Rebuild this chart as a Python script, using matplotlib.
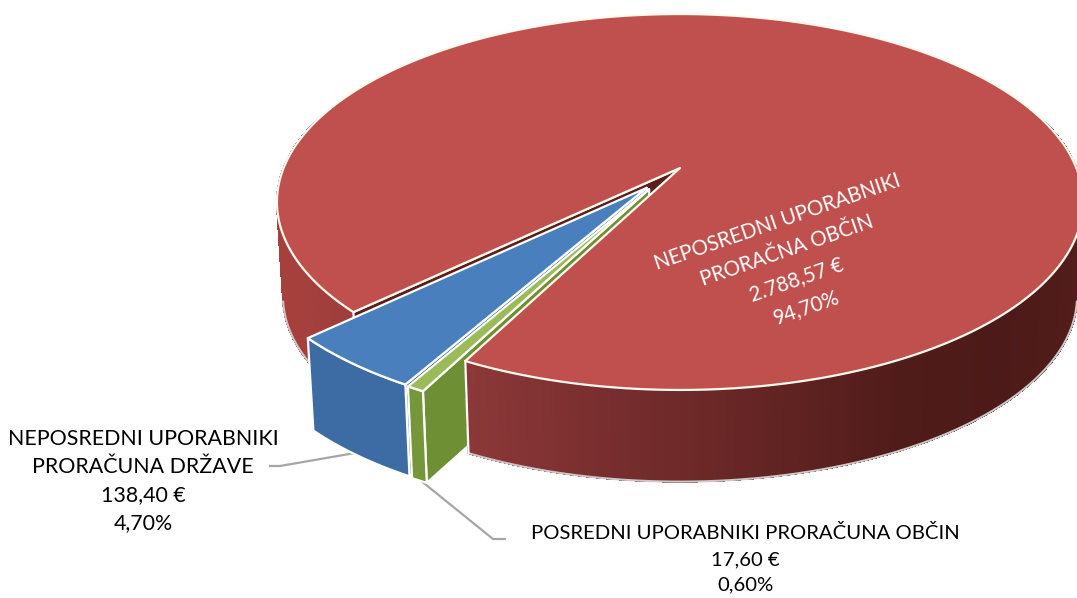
import numpy as np
import matplotlib
matplotlib.use('Agg')
import matplotlib.pyplot as plt
from matplotlib.collections import PolyCollection
from matplotlib.colors import to_rgb

plt.rcParams['font.family'] = ['Lato', 'DejaVu Sans']

# dati del grafico
names = ['NEPOSREDNI UPORABNIKI\nPRORAČNA OBČIN',
         'POSREDNI UPORABNIKI PRORAČUNA OBČIN',
         'NEPOSREDNI UPORABNIKI\nPRORAČUNA DRŽAVE']
values = [2788.57, 17.60, 138.40]
value_labels = ['2.788,57 €', '17,60 €', '138,40 €']
pct_labels = ['94,70%', '0,60%', '4,70%']
top_colors = ['#c0504d', '#9bbb59', '#4a7fbd']
wall_colors = ['#8a3a38', '#76963a', '#3d6ca5']
side_colors = ['#5a1f1c', '#6f8f35', '#2f5a94']
explode = [0.0, 0.137, 0.135]
explode_turn = [0.0, 5.7, 0.0]

# gradiente del bordo rosso, per x in pixel
wall_x = [277, 300, 465, 600, 760, 900, 1000, 1080]
wall_c = ['#a5403d', '#a5403d', '#8c3839', '#792e2e', '#642524', '#501c1a', '#4c1a18', '#521d1b']

START = 46.1  # primo spicchio, gradi dal basso in senso orario
CX, CY = 680, 168
A, B, K = 396.4, 181.8, 0.1809
SCALE, DEPTH = 0.985, 95
EDGE = '#fff9ee'
OUTER = '#cdc8c8'


def project(ang, r=1.0, off=(0.0, 0.0), lower=False):
    # disco in prospettiva -> pixel
    ang = np.radians(ang)
    X = -np.sin(ang) * r + off[0]
    Y = np.cos(ang) * r + off[1]
    w = 1 - K * Y
    u = A * X / w
    v = B * Y / w
    if lower:
        return np.column_stack([CX + u * SCALE, CY + v * SCALE + DEPTH])
    return np.column_stack([CX + u, CY + v])


fig = plt.figure(figsize=(10.77, 5.98), dpi=100)
ax = fig.add_axes([0, 0, 1, 1])
ax.set_xlim(0, 1077)
ax.set_ylim(598, 0)
ax.axis('off')

total = sum(values)
sweeps = [v / total * 360 for v in values]
starts = [START, START + sweeps[0], START + sweeps[0] + sweeps[1]]


def poly(pts, color, lw=1.6, z=1, edge='white'):
    ax.fill(pts[:, 0], pts[:, 1], facecolor=color, edgecolor=edge, lw=lw,
            joinstyle='round', zorder=z)


def red_wall(a0, a1, z):
    # bordo esterno a strisce, con il gradiente
    angs = np.linspace(a0, a1, 250)
    top = project(angs)
    bot = project(angs, lower=True)
    quads = [[top[i], top[i + 1], bot[i + 1], bot[i]] for i in range(len(angs) - 1)]
    rgb = np.array([to_rgb(c) for c in wall_c])
    mid = (top[:-1, 0] + top[1:, 0]) / 2
    cols = np.column_stack([np.interp(mid, wall_x, rgb[:, i]) for i in range(3)])
    ax.add_collection(PolyCollection(quads, facecolors=cols, edgecolors=cols, lw=0.8,
                                     antialiaseds=False, zorder=z))
    return top, bot


# rosso: parte sinistra dietro al blu, parte destra davanti al verde
a0, a1 = starts[0], starts[0] + sweeps[0]
red_wall(a0, 105, 1)
top_r, bot_r = red_wall(255, a1, 6)
# contorno grigio solo dove si vede
vis_l = project(np.linspace(a0, 78, 60), lower=True)
vis_r = project(np.linspace(282, a1, 150), lower=True)
ax.plot(vis_l[:, 0], vis_l[:, 1], color=OUTER, lw=1.5, zorder=1.1)
ax.plot(vis_r[:, 0], vis_r[:, 1], color=OUTER, lw=1.5, zorder=6.1)
ax.plot([top_r[-1, 0], bot_r[-1, 0]], [top_r[-1, 1], bot_r[-1, 1]], color='white', lw=1.6, zorder=6.1)

angs = np.linspace(a0, a1, 500)
top = project(angs)
tip = project(np.array([0.0]), r=0)
tip_low = project(np.array([0.0]), r=0, lower=True)
poly(np.vstack([tip, top[:1], project(np.array([a0]), lower=True), tip_low]), side_colors[0], z=1.2)
poly(np.vstack([tip, top, tip]), top_colors[0], z=6.2, edge=EDGE)

# blu e verde, staccati
for i in [2, 1]:
    a0 = starts[i] % 360
    a1 = a0 + sweeps[i]
    bis = np.radians((a0 + a1) / 2 + explode_turn[i])
    off = (-np.sin(bis) * explode[i], np.cos(bis) * explode[i])
    arc = np.linspace(a0, a1, 60)
    t = project(arc, off=off)
    b = project(arc, off=off, lower=True)
    ct = project(np.array([0.0]), r=0, off=off)
    cb = project(np.array([0.0]), r=0, off=off, lower=True)
    z = 4 - i
    # a0 e' il lato che guarda verso chi osserva
    poly(np.vstack([ct, t[:1], b[:1], cb]), side_colors[i], z=z)
    poly(np.vstack([t, b[::-1]]), wall_colors[i], z=z + 0.1)
    poly(np.vstack([ct, t, ct]), top_colors[i], z=z + 0.2)

# linee guida
ax.plot([270, 280, 355], [466, 466, 453], color='#a6a6a6', lw=1.6, zorder=1)
ax.plot([420, 493, 505], [480, 539, 539], color='#a6a6a6', lw=1.6, zorder=1)

# etichette
ax.text(792, 265, names[0] + '\n' + value_labels[0] + '\n' + pct_labels[0], color='white',
        fontsize=14.8, rotation=19, rotation_mode='anchor', ha='center', va='center',
        multialignment='center', linespacing=1.62, zorder=10)
ax.text(143, 481, names[2] + '\n' + value_labels[2] + '\n' + pct_labels[2], color='black',
        fontsize=15.4, ha='center', va='center', multialignment='center', linespacing=1.5, zorder=10)
ax.text(745, 559, names[1] + '\n' + value_labels[1] + '\n' + pct_labels[1], color='black',
        fontsize=14.6, ha='center', va='center', multialignment='center', linespacing=1.62, zorder=10)

fig.savefig('out.png', dpi=100)
